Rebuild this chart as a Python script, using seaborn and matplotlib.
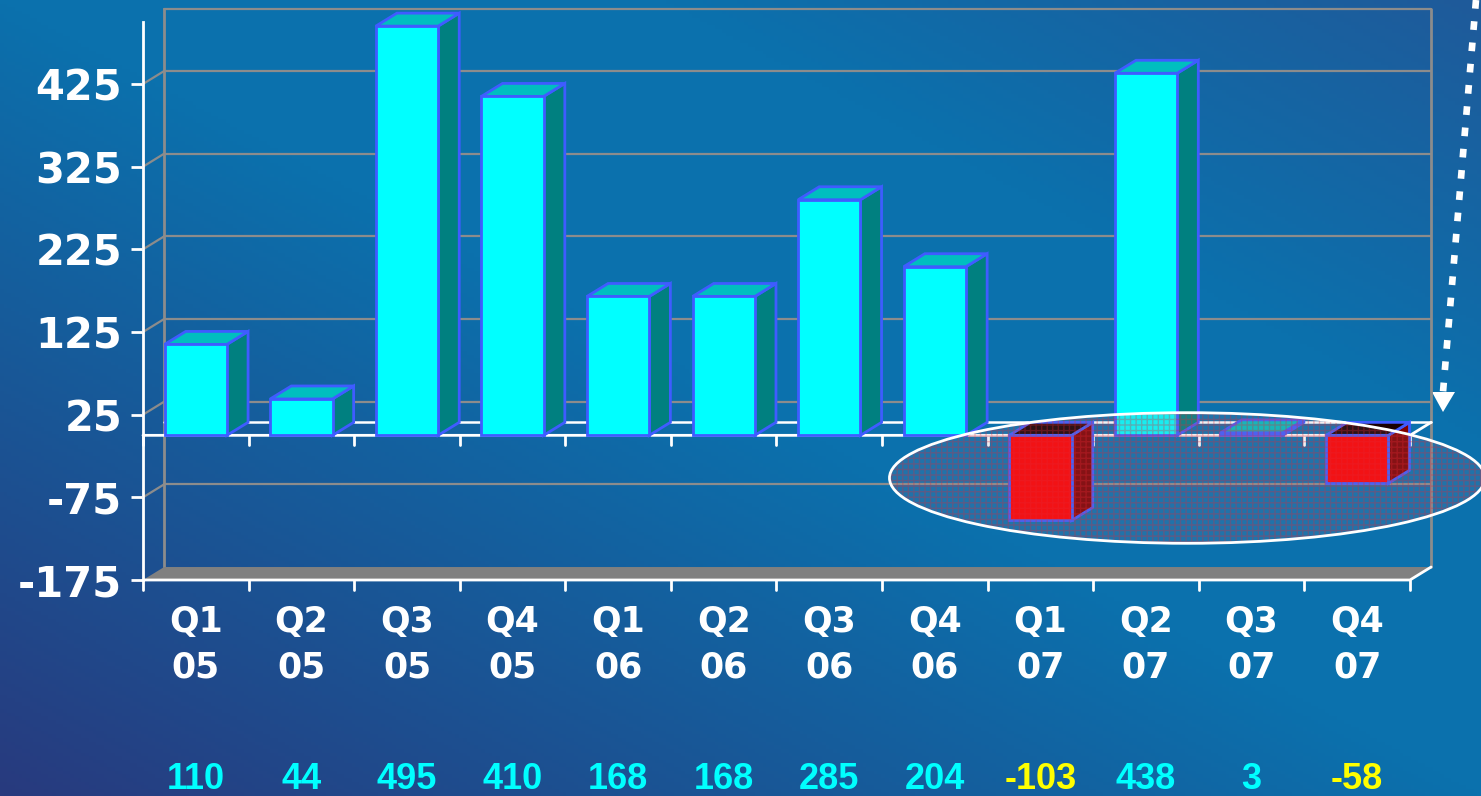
import numpy as np
import pandas as pd
import matplotlib
matplotlib.use("Agg")
import matplotlib.pyplot as plt
from matplotlib.patches import Polygon, Ellipse
from matplotlib.lines import Line2D
import seaborn as sns

# data
quarters = ["Q1", "Q2", "Q3", "Q4", "Q1", "Q2", "Q3", "Q4", "Q1", "Q2", "Q3", "Q4"]
years = ["05", "05", "05", "05", "06", "06", "06", "06", "07", "07", "07", "07"]
values = [110, 44, 495, 410, 168, 168, 285, 204, -103, 438, 3, -58]
y_ticks = [-175, -75, 25, 125, 225, 325, 425]
y_min, y_max = -175, 500

W, H, DPI = 1481, 796, 100

# 3D depth of walls/bars in data units (about 21px right, 13px up)
DX, DY = 0.2, 15.7

EDGE = "#3f5cff"
GRID = "#8c8c8c"
POS_FRONT, POS_SIDE, POS_TOP = "#00ffff", "#008080", "#00bfbf"
NEG_FRONT, NEG_SIDE, NEG_TOP = "#ff0000", "#800000", "#1a0000"

sns.set_theme(style="white")
plt.rcParams["font.family"] = ["DejaVu Sans"]

df = pd.DataFrame({
    "period": [f"{q}\n{y}" for q, y in zip(quarters, years)],
    "value": values,
})
df["sign"] = np.where(df["value"] < 0, "neg", "pos")

fig = plt.figure(figsize=(W / DPI, H / DPI), dpi=DPI)

# background gradient: dark navy bottom-left, bright blue middle, a bit darker top-right
bg = fig.add_axes([0, 0, 1, 1], zorder=0)
u = np.linspace(0, 1, 400)[None, :]
v = np.linspace(1, 0, 220)[:, None]
s = np.clip((u + v) / 1.0, 0, 1)[..., None]
dark = np.array([0x28, 0x3a, 0x7e]) / 255
blue = np.array([0x0b, 0x71, 0xad]) / 255
corner = np.array([0x1f, 0x5a, 0x9a]) / 255
img = dark + (blue - dark) * s
d = np.clip((u + v - 1.45) / 0.55, 0, 1)[..., None]
img = img + (corner - img) * d
bg.imshow(img, aspect="auto", extent=[0, 1, 0, 1])
bg.axis("off")

ax = fig.add_axes([143 / W, (H - 580) / H, 1267 / W, 558 / H], zorder=1)
ax.set_facecolor("none")

sns.barplot(data=df, x="period", y="value", hue="sign",
            palette={"pos": POS_FRONT, "neg": NEG_FRONT}, dodge=False, saturation=1,
            width=0.59, edgecolor=EDGE, linewidth=2, legend=False,
            zorder=3, ax=ax)

ax.set_xlim(-0.5, 11.5)
ax.set_ylim(y_min, y_max)
x0, x1 = -0.5, 11.5

# back wall grid + connectors to the front axis
for t in y_ticks[1:]:
    ax.plot([x0 + DX, x1 + DX], [t + DY, t + DY], color=GRID, lw=1.6, zorder=1, clip_on=False)
    ax.plot([x0, x0 + DX], [t, t + DY], color=GRID, lw=1.6, zorder=1, clip_on=False)
ax.plot([x0 + DX, x1 + DX], [y_max + DY, y_max + DY], color=GRID, lw=1.6, zorder=1, clip_on=False)
for xe in (x0 + DX, x1 + DX):
    ax.plot([xe, xe], [y_min + DY, y_max + DY], color=GRID, lw=2, zorder=1, clip_on=False)

# floor at the bottom
ax.add_patch(Polygon([(x0, y_min), (x1, y_min), (x1 + DX, y_min + DY), (x0 + DX, y_min + DY)],
                     closed=True, facecolor="#808080", edgecolor="none", zorder=1.5, clip_on=False))
ax.plot([x0, x1, x1 + DX], [y_min, y_min, y_min + DY], color="white", lw=2, zorder=1.6, clip_on=False)

# zero plane
ax.plot([x0 + DX, x1 + DX], [DY, DY], color="white", lw=1.8, zorder=1.2, clip_on=False)
ax.plot([x0, x1, x1 + DX], [0, 0, DY], color="white", lw=2, zorder=1.2, clip_on=False)

# category tick marks on zero line and on the floor edge
for xb in np.arange(-0.5, 12, 1.0):
    ax.plot([xb, xb], [0, -12], color="white", lw=2, zorder=1.2, clip_on=False)
    ax.plot([xb, xb], [y_min, y_min - 12], color="white", lw=2, zorder=1.6, clip_on=False)

# 3D sides and tops from each bar's geometry
for p in list(ax.patches):
    if isinstance(p, Polygon):
        continue
    bx, bw = p.get_x(), p.get_width()
    lo, hi = sorted([p.get_y(), p.get_y() + p.get_height()])
    neg = p.get_height() < 0
    side_c = NEG_SIDE if neg else POS_SIDE
    top_c = NEG_TOP if neg else POS_TOP
    r = bx + bw
    ax.add_patch(Polygon([(r, lo), (r, hi), (r + DX, hi + DY), (r + DX, lo + DY)], closed=True,
                         facecolor=side_c, edgecolor=EDGE, lw=2, zorder=2, clip_on=False))
    ax.add_patch(Polygon([(bx, hi), (r, hi), (r + DX, hi + DY), (bx + DX, hi + DY)], closed=True,
                         facecolor=top_c, edgecolor=EDGE, lw=2, zorder=2, clip_on=False))

# highlight ellipse around the weak 2007 quarters
ell_c, ell_w, ell_h = (9.39, -51.6), 5.64, 158
ax.add_patch(Ellipse(ell_c, ell_w, ell_h, facecolor=(0.65, 0.5, 0.6, 0.14),
                     edgecolor="none", zorder=4, clip_on=False))
ax.add_patch(Ellipse(ell_c, ell_w, ell_h, facecolor="none", edgecolor=(0.9, 0.15, 0.2, 0.3),
                     hatch="+++", lw=0, zorder=4.1, clip_on=False))
ax.add_patch(Ellipse(ell_c, ell_w, ell_h, facecolor="none", edgecolor="white",
                     lw=2, zorder=4.2, clip_on=False))

# axes styling
sns.despine(ax=ax, top=True, right=True, bottom=True, left=False)
ax.spines["left"].set_color("white")
ax.spines["left"].set_linewidth(2)
ax.set_yticks(y_ticks)
ax.set_yticklabels([str(t) for t in y_ticks], fontsize=30, fontweight="bold", color="white")
ax.tick_params(axis="y", length=9, width=2, color="white", pad=6, left=True)
ax.set_xticks([])
ax.set_xlabel("")
ax.set_ylabel("")
ax.grid(False)

# category labels and values under the chart
tr = ax.get_xaxis_transform()
for i, (q, yr, val) in enumerate(zip(quarters, years, values)):
    ax.text(i, -0.0753, q, transform=tr, ha="center", va="center", fontsize=25,
            fontweight="bold", color="white")
    ax.text(i, -0.156, yr, transform=tr, ha="center", va="center", fontsize=25,
            fontweight="bold", color="white")
    ax.text(i, -0.357, str(val), transform=tr, ha="center", va="center", fontsize=26,
            fontweight="bold", family=["Liberation Sans", "DejaVu Sans"],
            color="#ffff00" if val < 0 else "#00ffff")

# dotted arrow on the right
fig.add_artist(Line2D([1476 / W, 1443 / W], [1.0, (H - 392) / H], transform=fig.transFigure,
                      color="white", lw=4.8, linestyle=(0, (1.3, 1.9)), dash_capstyle="butt"))
fig.add_artist(Polygon([(1432 / W, (H - 392) / H), (1455 / W, (H - 392) / H), (1443 / W, (H - 412) / H)],
                       closed=True, transform=fig.transFigure, facecolor="white", edgecolor="none"))

fig.savefig("out.png", dpi=DPI)
